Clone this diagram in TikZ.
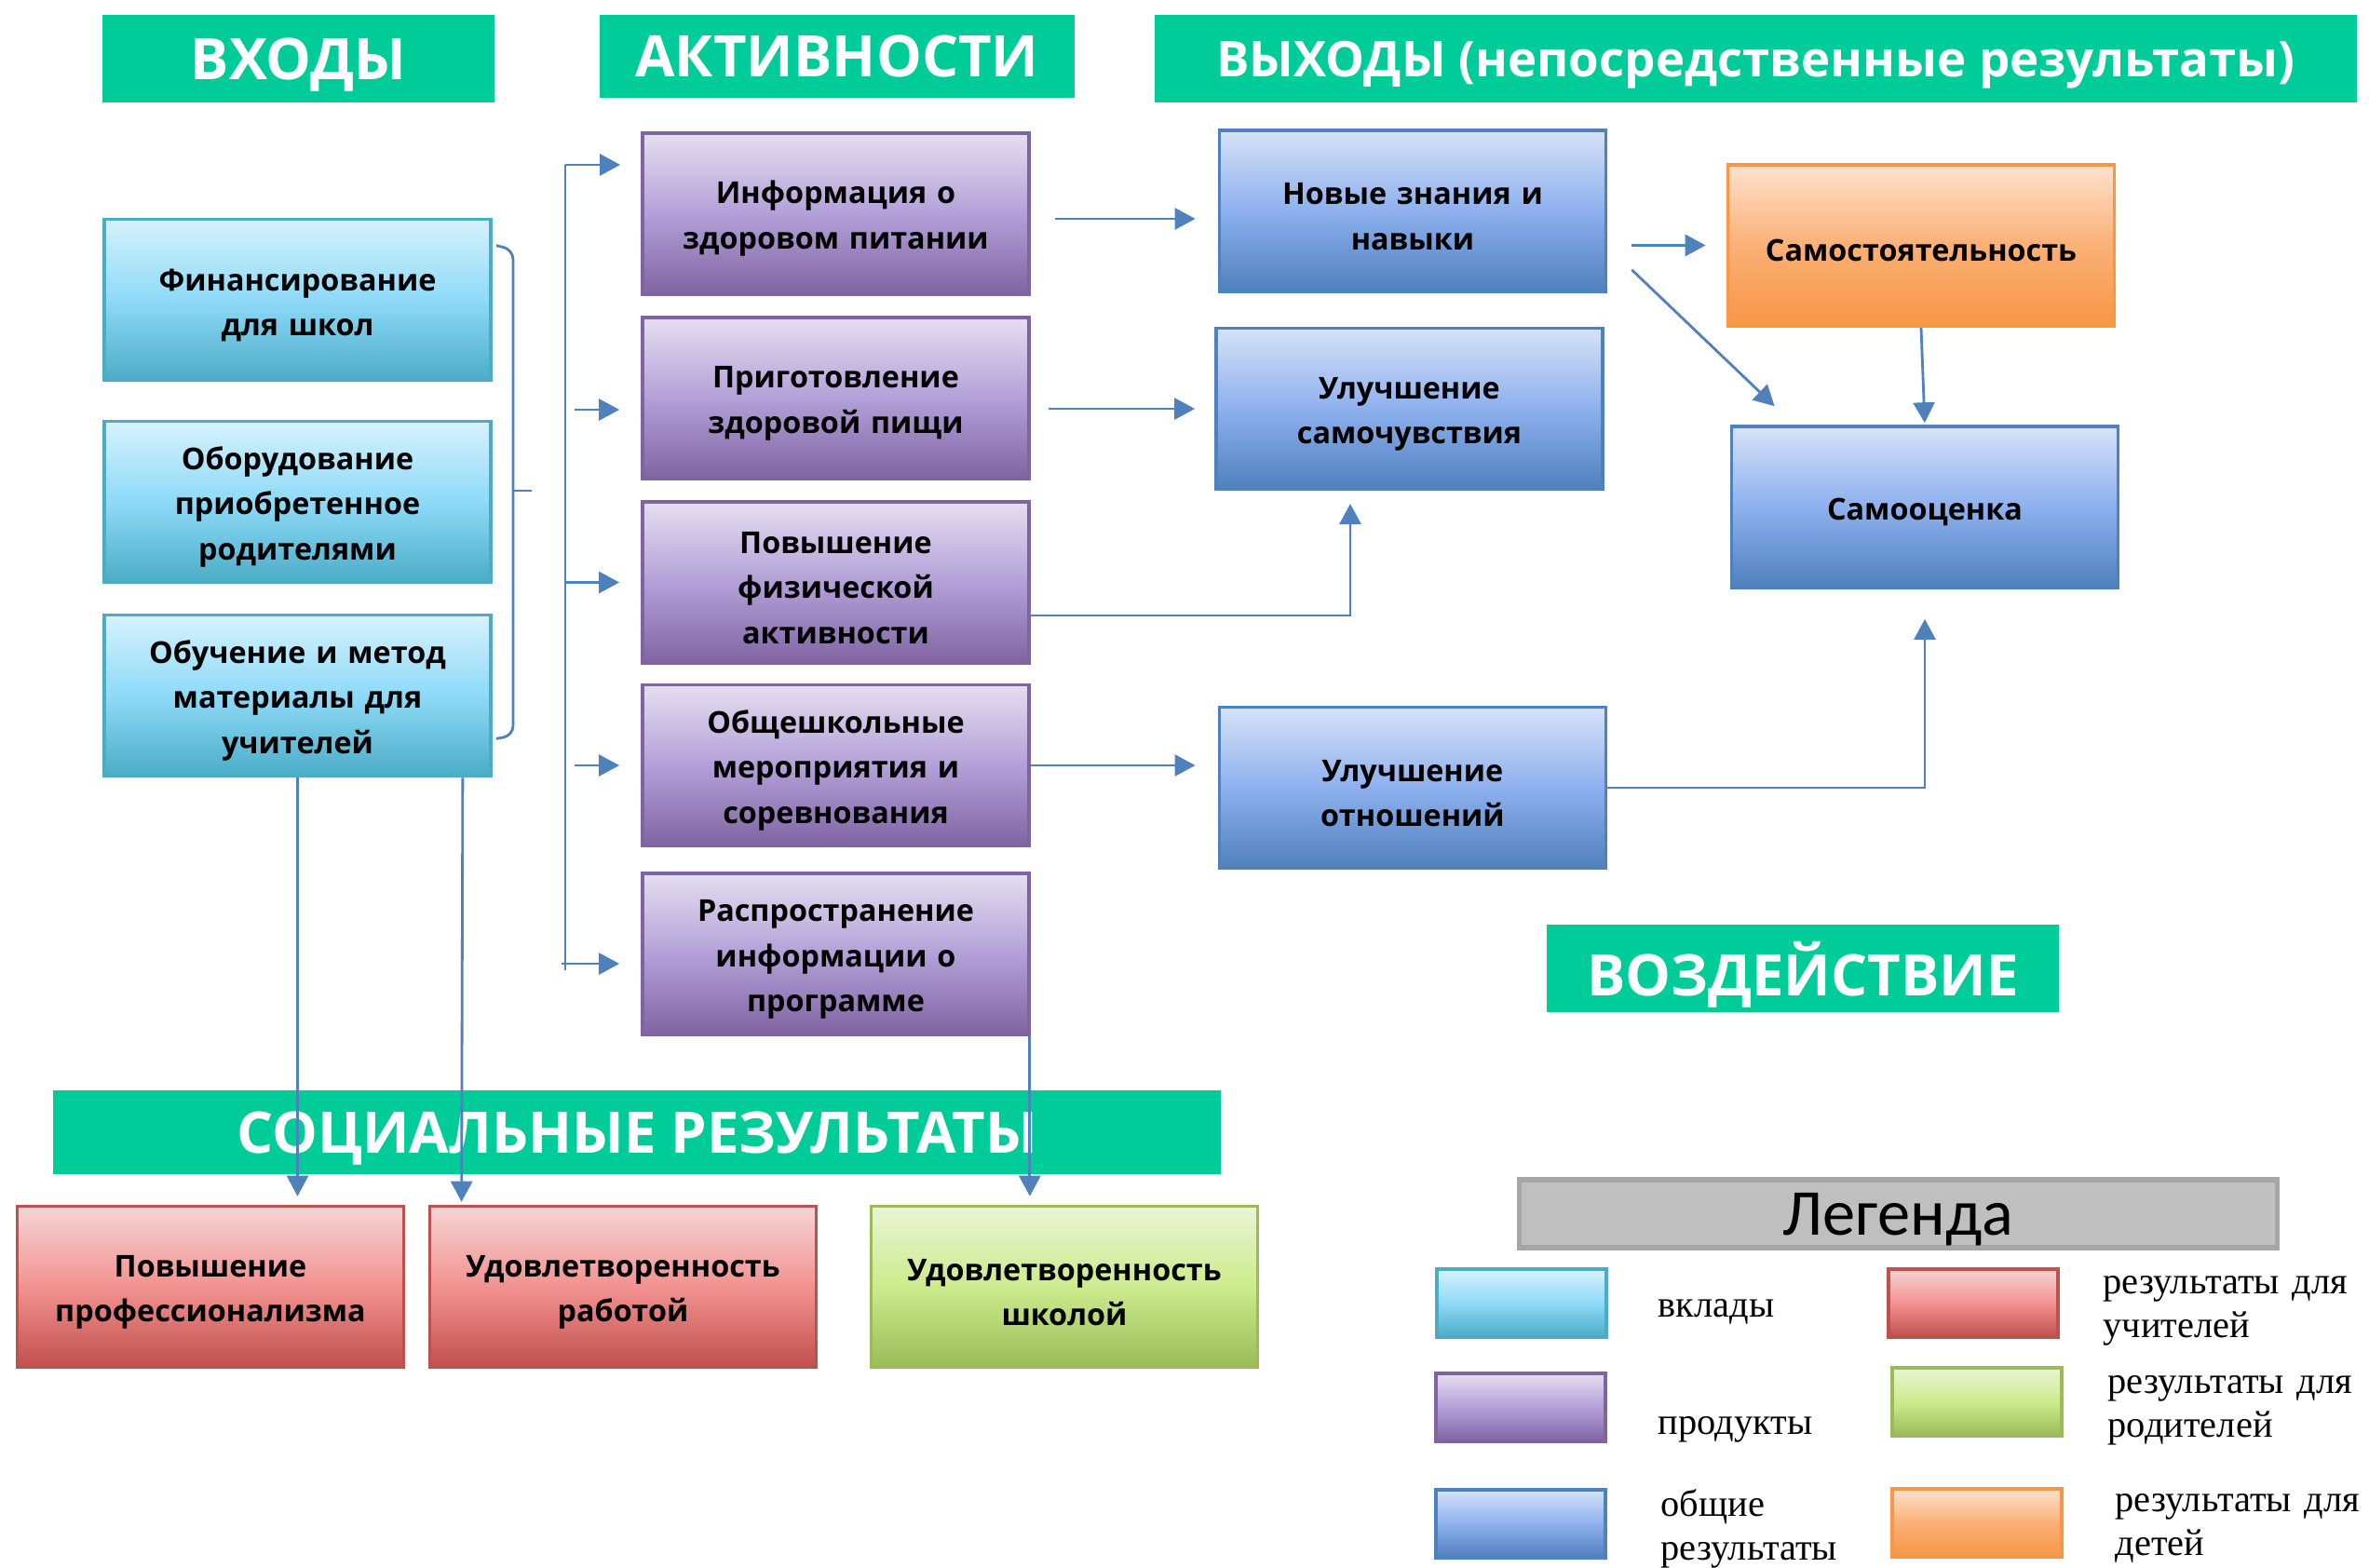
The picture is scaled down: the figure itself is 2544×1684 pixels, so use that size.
\documentclass[tikz,border=0pt]{standalone}
\usepackage{fontspec}
\setmainfont{Open Sans}
\newfontfamily\legserif{Liberation Serif}
\newfontfamily\legcal{Carlito}
\usepackage{tikz, xcolor}
\usetikzlibrary{arrows.meta, calc, positioning}
\definecolor{hd_green}{RGB}{0,204,153}
\definecolor{ln_blue}{RGB}{79,129,189}
\definecolor{in_top}{RGB}{214,242,252}
\definecolor{in_mid}{RGB}{142,218,248}
\definecolor{in_bot}{RGB}{75,172,198}
\definecolor{act_top}{RGB}{229,222,239}
\definecolor{act_mid}{RGB}{179,160,216}
\definecolor{act_bot}{RGB}{128,100,162}
\definecolor{out_top}{RGB}{214,226,247}
\definecolor{out_mid}{RGB}{141,176,238}
\definecolor{out_bot}{RGB}{79,129,189}
\definecolor{kid_top}{RGB}{253,226,206}
\definecolor{kid_mid}{RGB}{251,176,118}
\definecolor{kid_bot}{RGB}{247,150,70}
\definecolor{tch_top}{RGB}{245,213,213}
\definecolor{tch_mid}{RGB}{242,146,144}
\definecolor{tch_bot}{RGB}{192,80,77}
\definecolor{par_top}{RGB}{233,245,212}
\definecolor{par_mid}{RGB}{204,235,140}
\definecolor{par_bot}{RGB}{155,187,89}
\definecolor{lg_grey}{RGB}{191,191,191}
\definecolor{lg_edge}{RGB}{166,166,166}

\tikzset{
    incol/.style={draw=in_bot, top color=in_top, bottom color=in_bot, middle color=in_mid},
    actcol/.style={draw=act_bot, top color=act_top, bottom color=act_bot, middle color=act_mid},
    outcol/.style={draw=out_bot, top color=out_top, bottom color=out_bot, middle color=out_mid},
    kidcol/.style={draw=kid_bot, top color=kid_top, bottom color=kid_bot, middle color=kid_mid},
    tchcol/.style={draw=tch_bot, top color=tch_top, bottom color=tch_bot, middle color=tch_mid},
    parcol/.style={draw=par_bot, top color=par_top, bottom color=par_bot, middle color=par_mid},
    box/.style={rectangle, line width=1pt, minimum width=4.15cm, minimum height=1.73cm, inner sep=0pt, text width=4.15cm, align=center, font=\fontsize{9.2}{13.8}\selectfont\bfseries, execute at begin node={\rule{0pt}{10pt}}},
    swatch/.style={rectangle, line width=1pt, minimum width=1.82cm, minimum height=0.73cm, inner sep=0pt},
    hdr/.style={fill=hd_green, text=white, inner sep=0pt, text depth=0pt, font=\fontsize{17.5}{20}\selectfont\bfseries},
    link/.style={draw=ln_blue, line width=0.8pt},
    arr/.style={link, -{Triangle[length=0.22cm, width=0.23cm]}},
    legtxt/.style={anchor=west, inner sep=0pt, align=left, font=\legserif\fontsize{11.5}{13.3}\selectfont},
}

\begin{document}
\begin{tikzpicture}[x=0.01cm, y=-0.01cm]
    \path[use as bounding box, fill=white] (0,0) rectangle (2544,1684);

    % headers
    \node[hdr, minimum width=4.21cm, minimum height=0.94cm] (vx) at (320.5,63) {ВХОДЫ};
    \node[hdr, minimum width=5.10cm, minimum height=0.89cm] (akt) at (899,60.5) {АКТИВНОСТИ};
    \node[hdr, minimum width=12.91cm, minimum height=0.94cm, font=\fontsize{15}{18}\selectfont\bfseries] (vyx) at (1885.5,63) {ВЫХОДЫ (непосредственные результаты)};
    \node[hdr, minimum width=5.50cm, minimum height=0.94cm] (vozd) at (1936,1040) {ВОЗДЕЙСТВИЕ};
    \node[hdr, minimum width=12.54cm, minimum height=0.90cm] (soc) at (684,1216) {СОЦИАЛЬНЫЕ РЕЗУЛЬТАТЫ};

    % inputs
    \node[box, incol] (fin) at (319.5,322) {Финансирование\\для школ};
    \node[box, incol] (obor) at (319.5,539) {Оборудование\\приобретенное\\родителями};
    \node[box, incol] (obuch) at (319.5,747) {Обучение и метод\\материалы для\\учителей};

    % activities
    \node[box, actcol] (info) at (897.5,229.5) {Информация о\\здоровом питании};
    \node[box, actcol] (prig) at (897.5,427.5) {Приготовление\\здоровой пищи};
    \node[box, actcol] (fiz) at (897.5,625.5) {Повышение\\физической\\активности};
    \node[box, actcol] (obsh) at (897.5,822) {Общешкольные\\мероприятия и\\соревнования};
    \node[box, actcol] (rasp) at (897.5,1024.5) {Распространение\\информации о\\программе};

    % outputs
    \node[box, outcol] (znan) at (1517,226.5) {Новые знания и\\навыки};
    \node[box, outcol] (samoch) at (1513.5,439) {Улучшение\\самочувствия};
    \node[box, outcol] (otn) at (1517,846) {Улучшение\\отношений};
    \node[box, kidcol] (samost) at (2063,263.5) {Самостоятельность};
    \node[box, outcol] (samoots) at (2067,544.5) {Самооценка};

    % social results
    \node[box, tchcol] (prof) at (226,1382) {Повышение\\профессионализма};
    \node[box, tchcol] (rab) at (669,1382) {Удовлетворенность\\работой};
    \node[box, parcol] (shk) at (1143,1382) {Удовлетворенность\\школой};

    % legend
    \node[draw=lg_edge, line width=1.5pt, fill=lg_grey, minimum width=8.13cm, minimum height=0.73cm, inner sep=0pt, text depth=0pt, font=\legcal\fontsize{20}{22}\selectfont] (leg) at (2038.5,1303.5) {Легенда};
    \node[swatch, incol] (l_in) at (1634,1399.5) {};
    \node[swatch, actcol] (l_act) at (1633,1511.5) {};
    \node[swatch, outcol] (l_out) at (1633,1636.5) {};
    \node[swatch, tchcol] (l_tch) at (2119,1399.5) {};
    \node[swatch, parcol] (l_par) at (2123,1505.5) {};
    \node[swatch, kidcol] (l_kid) at (2123,1635.5) {};
    \node[legtxt] (t_in) at (1780,1409) {вклады};
    \node[legtxt] (t_act) at (1780,1535) {продукты};
    \node[legtxt] (t_out) at (1783,1642) {общие\\результаты};
    \node[legtxt, text width=2.62cm] (t_tch) at (2258,1408) {результаты\hfill для\\учителей};
    \node[legtxt, text width=2.62cm] (t_par) at (2263,1515) {результаты\hfill для\\родителей};
    \node[legtxt, text width=2.62cm] (t_kid) at (2271,1641) {результаты\hfill для\\детей};

    % bracket after inputs
    \coordinate (brk) at (551,527);
    \draw[link, rounded corners=3pt] ($(fin.north east)+(4,30)$) -- (551,268) -- (551,790) -- ($(obuch.south east)+(4,-42)$);
    \draw[link] (brk) -- ++(20,0);

    % distributor to activities
    \coordinate (dtop) at (607,177);
    \coordinate (dbot) at (607,1042);
    \coordinate (d2) at (617,440);
    \coordinate (d5) at (603,1035);
    \draw[link] (dtop) -- (dbot);
    \draw[arr, shorten >=0.22cm] (dtop) -- (dtop -| info.west);
    \draw[arr, shorten >=0.23cm] (d2) -- (d2 -| prig.west);
    \draw[arr, shorten >=0.23cm] (dtop |- fiz.west) -- (fiz.west);
    \draw[arr, shorten <=0.1cm, shorten >=0.23cm] (dtop |- obsh.west) -- (obsh.west);
    \draw[arr, shorten >=0.23cm] (d5) -- (d5 -| rasp.west);

    % activities to outputs
    \coordinate (samoch_in) at (1450,526);
    \draw[arr, shorten <=0.26cm, shorten >=0.24cm] ([yshift=-0.055cm]info.east) -- ([yshift=-0.055cm]info.east -| znan.west);
    \draw[arr, shorten <=0.19cm, shorten >=0.21cm] (prig.east |- samoch.west) -- (samoch.west);
    \draw[arr, shorten >=0.15cm] ([yshift=-0.355cm]fiz.east) -| (samoch_in);
    \draw[arr, shorten >=0.24cm] (obsh.east) -- (obsh.east -| otn.west);

    % outputs to impact
    \draw[arr, shorten <=0.26cm, shorten >=0.22cm] (znan.east |- samost.west) -- (samost.west);
    \draw[arr] ($(znan.south east)+(26,-25)$) -- ($(samoots.north west)+(48,-20)$);
    \draw[arr, shorten >=0.02cm] (samost.south) -- (samoots.north);
    \draw[arr, shorten >=0.32cm] (otn.east) -| (samoots.south);

    % down to social results
    \draw[arr, shorten >=0.09cm] (obuch.south) -- (obuch.south |- prof.north);
    \draw[arr] ($(obuch.south east)+(-32,0)$) -- ($(rab.north west)+(36,-3)$);
    \draw[arr, shorten >=0.09cm] ([xshift=-0.01cm]rasp.south east) -- ([xshift=-0.01cm]rasp.south east |- shk.north);

\end{tikzpicture}
\end{document}
